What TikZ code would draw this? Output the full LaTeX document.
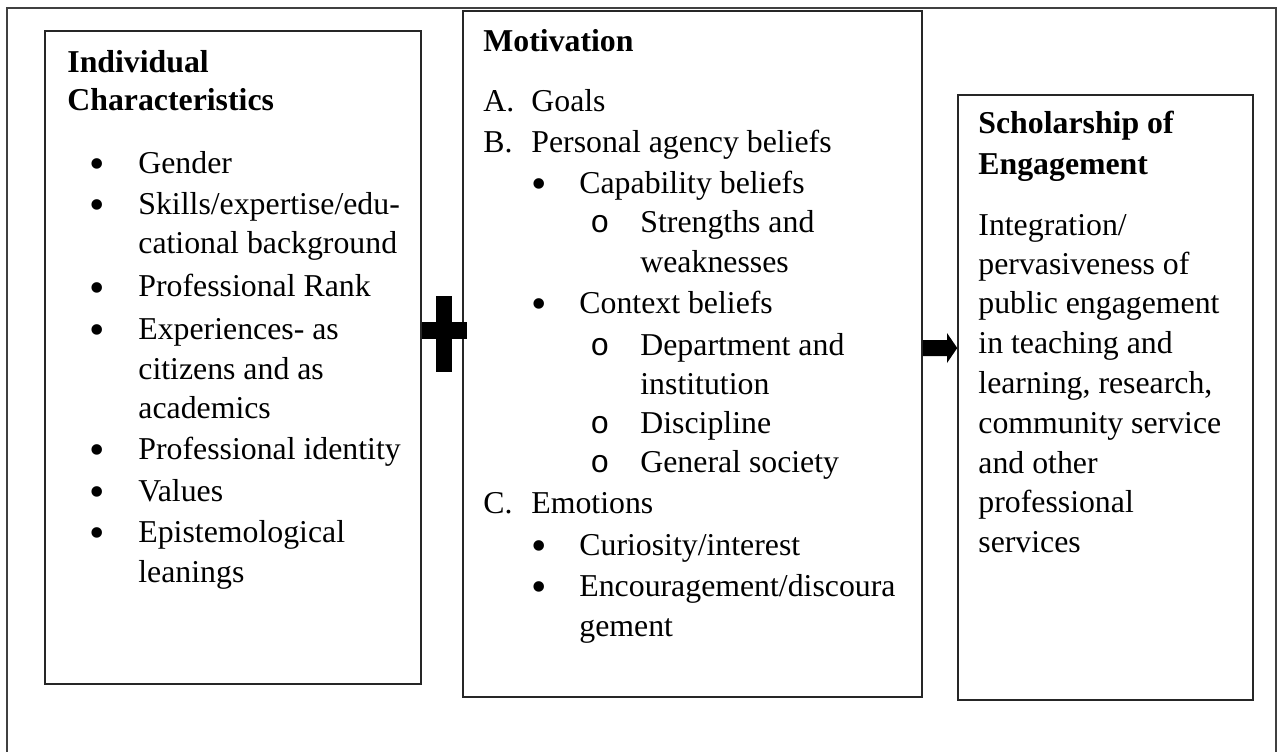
\documentclass[tikz,border=0pt]{standalone}
\usepackage{fontspec}
\setmainfont{Liberation Serif}
\newfontfamily\monof{Liberation Mono}
\usetikzlibrary{fit}
\newcommand{\mytxt}{\fontsize{15.9}{19}\selectfont}
\tikzset{
  box/.style={draw=black!85, line width=0.75pt, inner sep=0pt},
  txt/.style={font=\mytxt, anchor=base west, inner sep=0pt},
  hd/.style={font=\mytxt\bfseries, anchor=base west, inner sep=0pt},
  bul/.style={font=\fontsize{22}{22}\selectfont, anchor=center, inner sep=0pt, yshift=2pt},
  obul/.style={font=\mytxt\monof, anchor=base, inner sep=0pt},
  solid/.style={fill=black, draw=none},
}
\begin{document}
\begin{tikzpicture}[x=0.5pt,y=-0.5pt]
\useasboundingbox (0,0) rectangle (1280,751);
\fill[white] (0,0) rectangle (1280,751);
% outer frame (open at bottom, runs off the page)
\coordinate (f1) at (7,770);
\coordinate (f2) at (7,8);
\coordinate (f3) at (1276,8);
\coordinate (f4) at (1276,770);
\draw[draw=black!75, line width=0.6pt] (f1) -- (f2) -- (f3) -- (f4);

% boxes
\node[box, fit={(45,31) (421,684)}] (ind) {};
\node[box, fit={(463,11) (922,697)}] (mot) {};
\node[box, fit={(958,95) (1253,700)}] (sch) {};

% left box text
\node[hd] (i1) at (67,72) {Individual};
\node[hd] (i2) at (67,110) {Characteristics};
\node[bul] (ib1) at (97,173) {•};  \node[txt] (it1) at (138,173) {Gender};
\node[bul] (ib2) at (97,214) {•};  \node[txt] (it2) at (138,214) {Skills/expertise/edu-};
\node[txt] (it2b) at (138,253.5) {cational background};
\node[bul] (ib3) at (97,296.5) {•}; \node[txt] (it3) at (138,296.5) {Professional Rank};
\node[bul] (ib4) at (97,339) {•};  \node[txt] (it4) at (138,339) {Experiences- as};
\node[txt] (it4b) at (138,379) {citizens and as};
\node[txt] (it4c) at (138,418) {academics};
\node[bul] (ib5) at (97,459) {•};  \node[txt] (it5) at (138,459) {Professional identity};
\node[bul] (ib6) at (97,501) {•};  \node[txt] (it6) at (138,501) {Values};
\node[bul] (ib7) at (97,542) {•};  \node[txt] (it7) at (138,542) {Epistemological};
\node[txt] (it7b) at (138,582) {leanings};

% middle box text
\node[hd] (m0) at (483,51) {Motivation};
\node[txt] (mA) at (483,111) {A.}; \node[txt] (mA1) at (531,111) {Goals};
\node[txt] (mB) at (483,152) {B.}; \node[txt] (mB1) at (531,152) {Personal agency beliefs};
\node[bul] (mb1) at (539,193) {•}; \node[txt] (mt1) at (579,193) {Capability beliefs};
\node[obul] (mo1) at (600,232) {o}; \node[txt] (mu1) at (640,232) {Strengths and};
\node[txt] (mu1b) at (640,272) {weaknesses};
\node[bul] (mb2) at (539,313) {•}; \node[txt] (mt2) at (579,313) {Context beliefs};
\node[obul] (mo2) at (600,355) {o}; \node[txt] (mu2) at (640,355) {Department and};
\node[txt] (mu2b) at (640,394) {institution};
\node[obul] (mo3) at (600,433) {o}; \node[txt] (mu3) at (640,433) {Discipline};
\node[obul] (mo4) at (600,472) {o}; \node[txt] (mu4) at (640,472) {General society};
\node[txt] (mC) at (483,513) {C.}; \node[txt] (mC1) at (531,513) {Emotions};
\node[bul] (mb3) at (539,555) {•}; \node[txt] (mt3) at (579,555) {Curiosity/interest};
\node[bul] (mb4) at (539,596) {•}; \node[txt] (mt4) at (579,596) {Encouragement/discoura};
\node[txt] (mt4b) at (579,636) {gement};

% right box text
\node[hd] (s1) at (978,133) {Scholarship of};
\node[hd] (s2) at (978,174) {Engagement};
\node[txt] (r1) at (978,235) {Integration/};
\node[txt] (r2) at (978,274) {pervasiveness of};
\node[txt] (r3) at (978,313) {public engagement};
\node[txt] (r4) at (978,353) {in teaching and};
\node[txt] (r5) at (978,393) {learning, research,};
\node[txt] (r6) at (978,433) {community service};
\node[txt] (r7) at (978,473) {and other};
\node[txt] (r8) at (978,512) {professional};
\node[txt] (r9) at (978,552) {services};

% plus sign between first and second box
\fill[solid] (436,296) rectangle (452,372);
\fill[solid] (422,322) rectangle (467,339);

% block arrow from motivation box to scholarship box
\fill[solid] (mot.east |- 0,340) -- (947,340) -- (947,333) -- (sch.west |- 0,348)
  -- (947,363) -- (947,356) -- (mot.east |- 0,356) -- cycle;
\end{tikzpicture}
\end{document}
